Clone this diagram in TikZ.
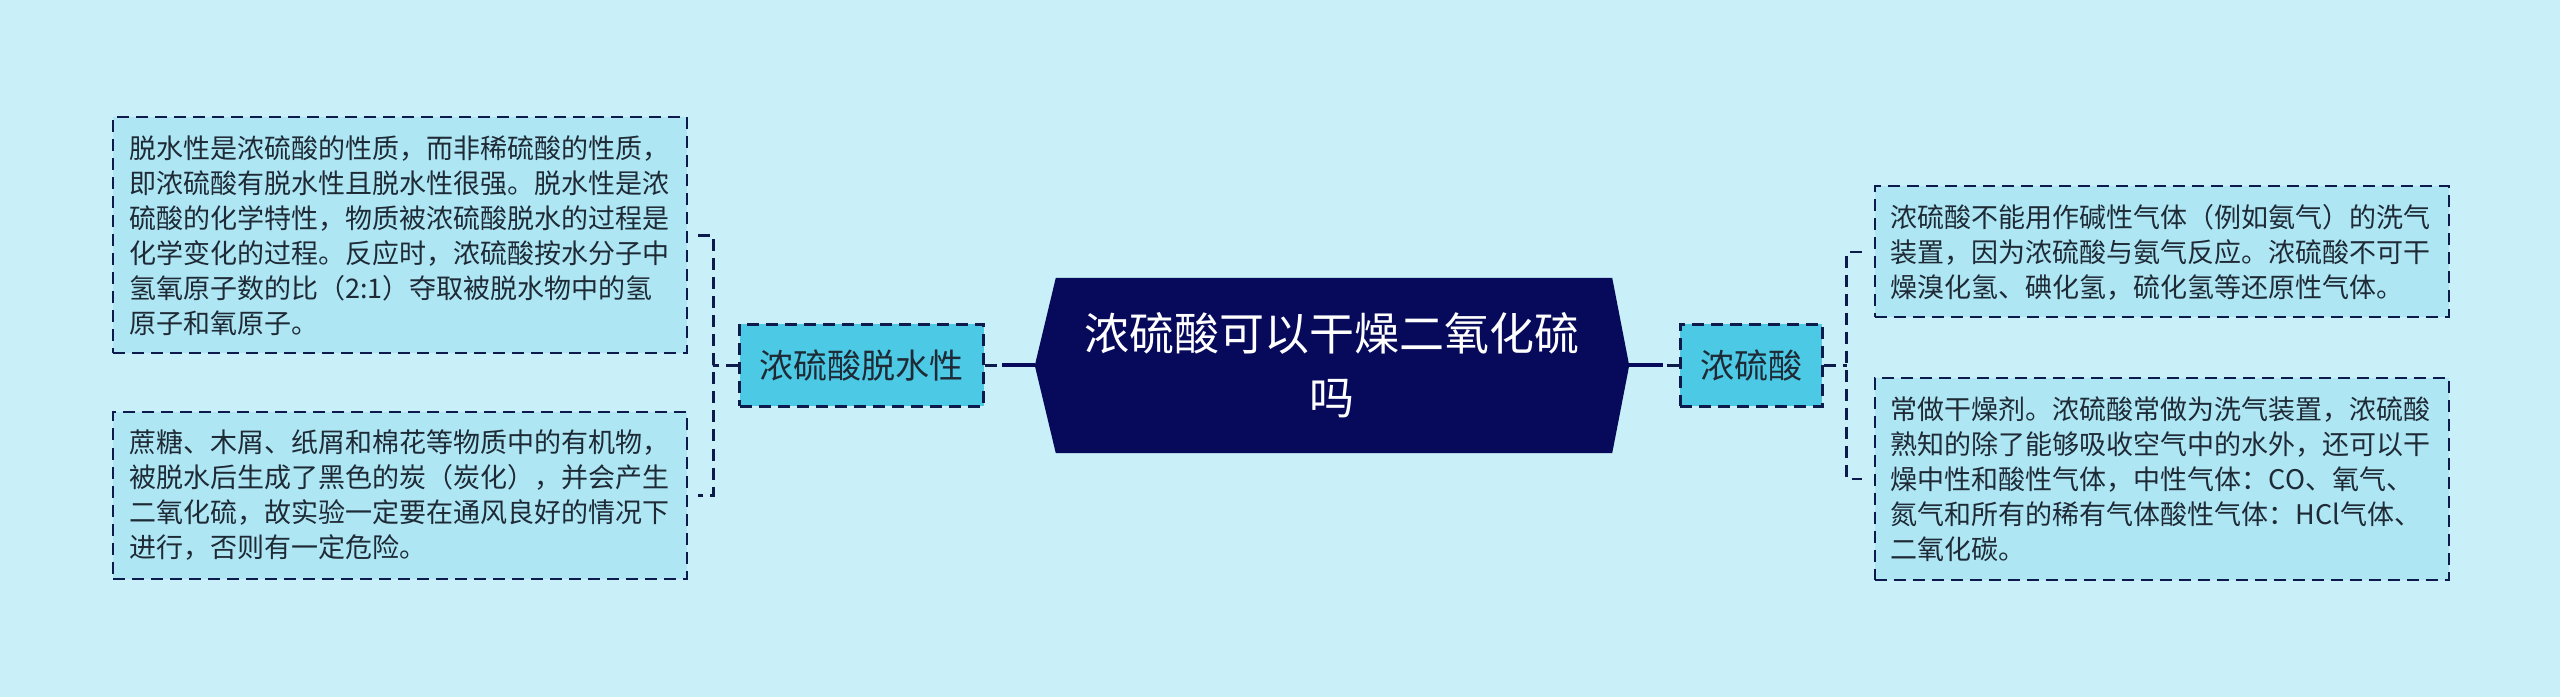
\documentclass[tikz,border=0pt]{standalone}
\usepackage{xcolor}
\usepackage{fontspec}
\usepackage{tikz}
\usetikzlibrary{positioning,calc,backgrounds}
\newfontfamily\cjk{Noto Sans CJK SC}
\definecolor{bgcol}{HTML}{C9EFF8}
\definecolor{leafcol}{HTML}{AEE6F3}
\definecolor{subcol}{HTML}{4CC9E4}
\definecolor{rootcol}{HTML}{070A5B}
\definecolor{linecol}{HTML}{0D1B4C}
\definecolor{txtcol}{HTML}{1E2A36}

\begin{document}
\begin{tikzpicture}[
    x=1pt, y=1pt,
    node distance=50pt,
    root/.style={rectangle, minimum width=594pt, minimum height=175pt, text width=500pt, align=center, text=white, font=\cjk\fontsize{45pt}{64pt}\selectfont},
    sub/.style={rectangle, draw=linecol, line width=2.5pt, dash pattern=on 12pt off 7pt, fill=subcol, minimum height=82pt, inner xsep=20pt, text=txtcol, font=\cjk\fontsize{34pt}{40pt}\selectfont},
    leaf/.style={rectangle, draw=linecol, line width=2pt, dash pattern=on 12pt off 7pt, fill=leafcol, text width=542pt, inner xsep=16pt, align=left, text=txtcol, font=\cjk\fontsize{27pt}{35pt}\selectfont},
    trunk/.style={draw=rootcol, line width=4pt},
    twig/.style={draw=linecol, line width=2.5pt, dash pattern=on 12pt off 7pt}
]
\useasboundingbox (0,0) rectangle (2560,697);

\node[root] (root) at (1332,331.5) {浓硫酸可以干燥二氧化硫\\吗};
\node[sub, left=of root] (dehyd) {浓硫酸脱水性};
\node[sub, right=of root] (acid) {浓硫酸};

\node[leaf, minimum height=236pt, left=of dehyd, yshift=130pt] (dehyd1) {脱水性是浓硫酸的性质，而非稀硫酸的性质，\\即浓硫酸有脱水性且脱水性很强。脱水性是浓\\硫酸的化学特性，物质被浓硫酸脱水的过程是\\化学变化的过程。反应时，浓硫酸按水分子中\\氢氧原子数的比（2:1）夺取被脱水物中的氢\\原子和氧原子。};
\node[leaf, minimum height=166pt, left=of dehyd, yshift=-130pt] (dehyd2) {蔗糖、木屑、纸屑和棉花等物质中的有机物，\\被脱水后生成了黑色的炭（炭化），并会产生\\二氧化硫，故实验一定要在通风良好的情况下\\进行，否则有一定危险。};
\node[leaf, minimum height=131pt, right=of acid, yshift=113.5pt] (use1) {浓硫酸不能用作碱性气体（例如氨气）的洗气\\装置，因为浓硫酸与氨气反应。浓硫酸不可干\\燥溴化氢、碘化氢，硫化氢等还原性气体。};
\node[leaf, minimum height=201pt, right=of acid, yshift=-113.5pt] (use2) {常做干燥剂。浓硫酸常做为洗气装置，浓硫酸\\熟知的除了能够吸收空气中的水外，还可以干\\燥中性和酸性气体，中性气体：CO、氧气、\\氮气和所有的稀有气体酸性气体：HCl气体、\\二氧化碳。};

\coordinate (lfork) at ($(dehyd.west)+(-25,0)$);
\coordinate (rfork) at ($(acid.east)+(23,0)$);

\draw[twig] (dehyd.east) -- (root.west);
\draw[trunk] (root.west) -- ($(dehyd.east)+(17,0)$);
\draw[twig] (acid.west) -- (root.east);
\draw[trunk] (root.east) -- ($(acid.west)+(-16,0)$);

\draw[twig] (dehyd.west) -- (lfork);
\draw[twig] ($(dehyd1.east)+(10,0)$) -| (lfork) |- ($(dehyd2.east)+(10,0)$);
\draw[twig] (acid.east) -- (rfork);
\draw[twig] ($(use1.west)+(-12,0)$) -| (rfork) |- ($(use2.west)+(-12,0)$);

\begin{scope}[on background layer]
\fill[bgcol] (0,0) rectangle (2560,697);
\fill[rootcol] (root.west) -- ($(root.north west)+(21,0)$) -- ($(root.north east)+(-17,0)$) -- (root.east) -- ($(root.south east)+(-17,0)$) -- ($(root.south west)+(21,0)$) -- cycle;
\end{scope}
\end{tikzpicture}
\end{document}
